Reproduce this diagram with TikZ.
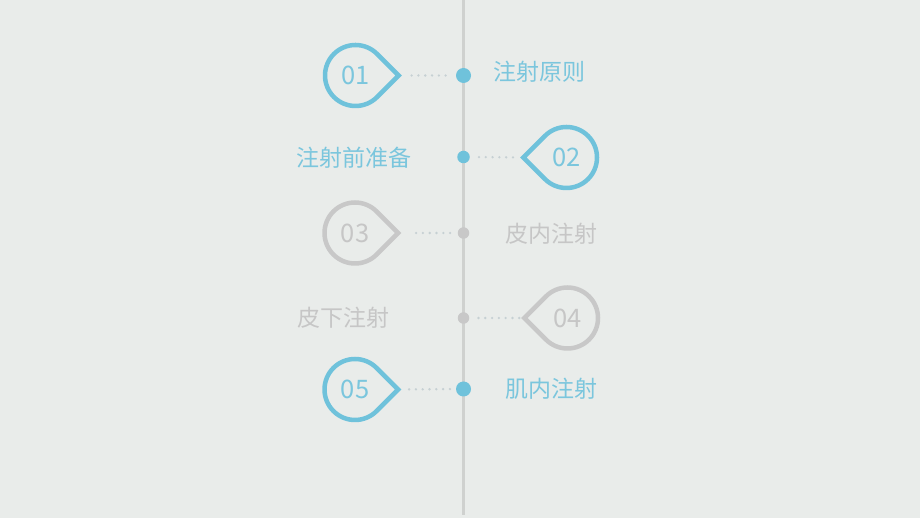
\documentclass[tikz,border=0pt]{standalone}
\usepackage{fontspec}
\newfontfamily\cjk{Noto Sans CJK SC}
\usepackage{tikz}
\usetikzlibrary{calc}
\usepackage{xcolor}
\definecolor{paper}{HTML}{E9ECEA}
\definecolor{sky}{HTML}{6FC2DB}
\definecolor{skytext}{HTML}{7BC6DD}
\definecolor{ash}{HTML}{C8C8C8}
\definecolor{ashtext}{HTML}{C6C6C6}
\definecolor{axis}{HTML}{CFD1CF}
\definecolor{dots}{HTML}{C6D0D3}

\tikzset{
	drop/.style={line width=4.5pt, line join=miter},
	num/.style={font=\cjk\fontsize{25.5}{25.5}\selectfont, inner sep=0pt},
	topic/.style={font=\cjk\fontsize{23}{23}\selectfont, inner sep=0pt},
	hub/.style={circle, inner sep=0pt, draw=none},
	dotline/.style={dots, line width=2.6pt, line cap=round, dash pattern=on 0pt off 6.8pt}
}

\begin{document}
\begin{tikzpicture}[x=1pt, y=1pt]
	\fill[paper] (0,0) rectangle (920,518);
	\useasboundingbox (0,0) rectangle (920,518);
	\draw[axis, line width=2.5pt] (463.5,518) -- (463.5,3);
%	left drops: 01, 03, 05 / right drops: 02, 04
	\node[num, text=skytext] (d1) at (355.5,442.5) {01};
	\node[num, text=skytext] (d2) at (566.5,360.5) {02};
	\node[num, text=ashtext] (d3) at (355,285) {03};
	\node[num, text=ashtext] (d4) at (567.5,200) {04};
	\node[num, text=skytext] (d5) at (355,128.5) {05};
	\draw[drop, sky] ($(d1.center)+(45:30.5)$) arc[start angle=45, end angle=315, radius=30.5] -- ++(45:30.5) coordinate (t1) -- cycle;
	\draw[drop, sky] ($(d2.center)+(-135:30.5)$) arc[start angle=-135, end angle=135, radius=30.5] -- ++(225:30.5) coordinate (t2) -- cycle;
	\draw[drop, ash] ($(d3.center)+(45:30.5)$) arc[start angle=45, end angle=315, radius=30.5] -- ++(45:30.5) coordinate (t3) -- cycle;
	\draw[drop, ash] ($(d4.center)+(-135:30.5)$) arc[start angle=-135, end angle=135, radius=30.5] -- ++(225:30.5) coordinate (t4) -- cycle;
	\draw[drop, sky] ($(d5.center)+(45:30.5)$) arc[start angle=45, end angle=315, radius=30.5] -- ++(45:30.5) coordinate (t5) -- cycle;
	\node[hub, fill=sky, minimum size=15pt] (h1) at (463.5,442.5) {};
	\node[hub, fill=sky, minimum size=12.5pt] (h2) at (463.5,361) {};
	\node[hub, fill=ash, minimum size=11.5pt] (h3) at (463.5,285) {};
	\node[hub, fill=ash, minimum size=11.5pt] (h4) at (463.5,200) {};
	\node[hub, fill=sky, minimum size=15pt] (h5) at (463.5,129) {};
	\draw[dotline, shorten <=13pt, shorten >=4pt] (t1) -- (h1);
	\draw[dotline, shorten <=9pt, shorten >=7pt] (h2) -- (t2);
	\draw[dotline, shorten <=18pt, shorten >=5pt] (t3) -- (h3);
	\draw[dotline, shorten <=9pt, shorten >=5pt] (h4) -- (t4);
	\draw[dotline, shorten <=11pt, shorten >=5pt] (t5) -- (h5);
	\node[topic, text=skytext, anchor=west] (l1) at (493,446) {注射原则};
	\node[topic, text=skytext, anchor=east] (l2) at (411.5,360.5) {注射前准备};
	\node[topic, text=ashtext, anchor=west] (l3) at (505,284) {皮内注射};
	\node[topic, text=ashtext, anchor=east] (l4) at (390,200.5) {皮下注射};
	\node[topic, text=skytext, anchor=west] (l5) at (505,129) {肌内注射};
\end{tikzpicture}
\end{document}
